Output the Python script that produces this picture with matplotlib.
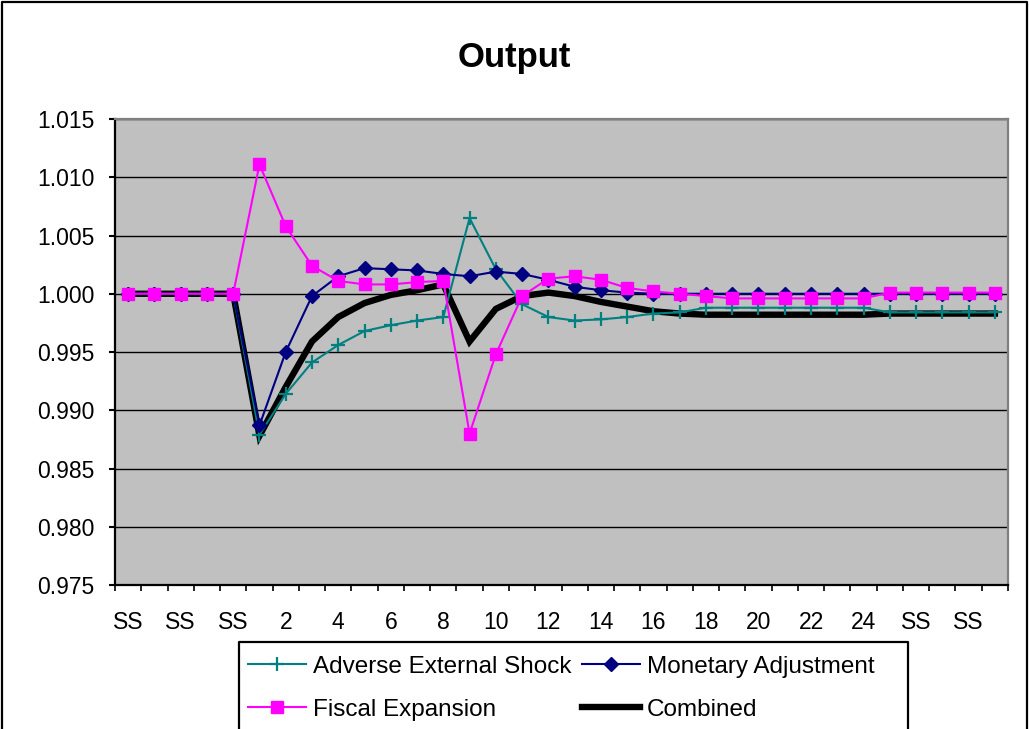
import numpy as np
import matplotlib
matplotlib.use("Agg")
import matplotlib.pyplot as plt
from matplotlib.ticker import FormatStrFormatter
from matplotlib.lines import Line2D

plt.rcParams['font.family'] = ['Liberation Sans', 'DejaVu Sans']

categories = ["SS", "SS", "SS", "SS", "SS",
              "1", "2", "3", "4", "5", "6", "7", "8", "9", "10", "11", "12",
              "13", "14", "15", "16", "17", "18", "19", "20", "21", "22", "23", "24",
              "SS", "SS", "SS", "SS", "SS"]

adverse = [1.0000, 1.0000, 1.0000, 1.0000, 1.0000,
           0.9879, 0.9914, 0.9941, 0.9956, 0.9968, 0.9973, 0.9977, 0.9980,
           1.0065, 1.0021, 0.9991, 0.9980, 0.9977, 0.9978, 0.9980, 0.9983,
           0.9984, 0.9988, 0.9988, 0.9988, 0.9988, 0.9988, 0.9988, 0.9988,
           0.9984, 0.9984, 0.9984, 0.9984, 0.9984]

monetary = [1.0000, 1.0000, 1.0000, 1.0000, 1.0000,
            0.9887, 0.9950, 0.9998, 1.0015, 1.0022, 1.0021, 1.0020, 1.0017,
            1.0015, 1.0019, 1.0017, 1.0012, 1.0006, 1.0003, 1.0001, 1.0000,
            1.0000, 1.0000, 1.0000, 1.0000, 1.0000, 1.0000, 1.0000, 1.0000,
            1.0000, 1.0000, 1.0000, 1.0000, 1.0000]

fiscal = [1.0000, 1.0000, 1.0000, 1.0000, 1.0000,
          1.0111, 1.0058, 1.0024, 1.0011, 1.0008, 1.0008, 1.0010, 1.0011,
          0.9880, 0.9948, 0.9998, 1.0013, 1.0015, 1.0012, 1.0005, 1.0002,
          1.0000, 0.9998, 0.9996, 0.9996, 0.9996, 0.9996, 0.9996, 0.9996,
          1.0001, 1.0001, 1.0001, 1.0001, 1.0001]

combined = [1.0000, 1.0000, 1.0000, 1.0000, 1.0000,
            0.9878, 0.9920, 0.9959, 0.9980, 0.9992, 0.9999, 1.0003, 1.0008,
            0.9959, 0.9987, 0.9998, 1.0001, 0.9998, 0.9993, 0.9989, 0.9985,
            0.9983, 0.9982, 0.9982, 0.9982, 0.9982, 0.9982, 0.9982, 0.9982,
            0.9983, 0.9983, 0.9983, 0.9983, 0.9983]

series_names = ["Adverse External Shock", "Monetary Adjustment",
                "Fiscal Expansion", "Combined"]
y_ticks = [0.975, 0.980, 0.985, 0.990, 0.995, 1.000, 1.005, 1.010, 1.015]

W, H = 1029, 729
fig = plt.figure(figsize=(W / 100, H / 100), dpi=100)
L, R, T, B = 115, 1008, 119, 585
ax = fig.add_axes([L / W, 1 - B / H, (R - L) / W, (B - T) / H])
ax.set_facecolor('#C0C0C0')

x = np.arange(len(categories))

h_comb, = ax.plot(x, combined, color='black', linewidth=4.6, zorder=3,
                  solid_joinstyle='miter')
h_adv, = ax.plot(x, adverse, color='#008080', linewidth=1.5, marker='+',
                 markersize=10, markeredgewidth=1.6, zorder=4)
h_mon, = ax.plot(x, monetary, color='#000080', linewidth=1.5, marker='D',
                 markersize=7.5, markerfacecolor='#000080',
                 markeredgecolor='#000080', zorder=5)
h_fis, = ax.plot(x, fiscal, color='#FF00FF', linewidth=1.5, marker='s',
                 markersize=8.5, markerfacecolor='#FF00FF',
                 markeredgecolor='#FF00FF', zorder=6)

ax.set_xlim(-0.5, len(categories) - 0.5)
ax.set_ylim(y_ticks[0], y_ticks[-1])
ax.set_yticks(y_ticks)
ax.yaxis.set_major_formatter(FormatStrFormatter('%.3f'))
ax.grid(axis='y', color='black', linewidth=1.0)
ax.set_axisbelow(True)

ax.set_xticks(np.arange(-0.5, len(categories), 1.0))
ax.set_xticklabels([])
ax.set_xticks(x[::2], minor=True)
ax.set_xticklabels(categories[::2], minor=True)
ax.tick_params(axis='x', which='major', length=4, width=1.2, direction='out',
               color='black')
ax.tick_params(axis='x', which='minor', length=0, pad=19, labelsize=16.5)
ax.tick_params(axis='y', length=4.5, width=1.5, direction='out', pad=10,
               labelsize=16.5)

for s in ['left', 'bottom']:
    ax.spines[s].set_color('black')
    ax.spines[s].set_linewidth(1.6)
for s in ['top', 'right']:
    ax.spines[s].set_color('#808080')
    ax.spines[s].set_linewidth(1.6)

fig.text(514 / W, 1 - 57 / H, 'Output', ha='center', va='center',
         fontsize=25, fontweight='bold')

leg = fig.legend(handles=[h_adv, h_fis, h_mon, h_comb],
                 labels=[series_names[0], series_names[2],
                         series_names[1], series_names[3]],
                 ncol=2, loc='upper left',
                 bbox_to_anchor=(239 / W, 1 - 647 / H),
                 bbox_transform=fig.transFigure,
                 frameon=False, fontsize=17.5, handlelength=2.4,
                 handletextpad=0.28, columnspacing=0.45, labelspacing=0.88,
                 borderpad=0.35, borderaxespad=0, numpoints=1)

# legend frame (bottom edge lies below the image, as in the reference)
leg_frame = Line2D([239 / W, 239 / W, 908 / W, 908 / W],
                   [-0.05, 1 - 642 / H, 1 - 642 / H, -0.05],
                   transform=fig.transFigure, color='black', linewidth=1.6)
fig.add_artist(leg_frame)

# outer chart border (bottom edge lies below the image)
border = Line2D([2 / W, 2 / W, 1027 / W, 1027 / W],
                [-0.05, 1 - 2 / H, 1 - 2 / H, -0.05],
                transform=fig.transFigure, color='black', linewidth=1.6)
fig.add_artist(border)

fig.savefig('out.png', dpi=100)
